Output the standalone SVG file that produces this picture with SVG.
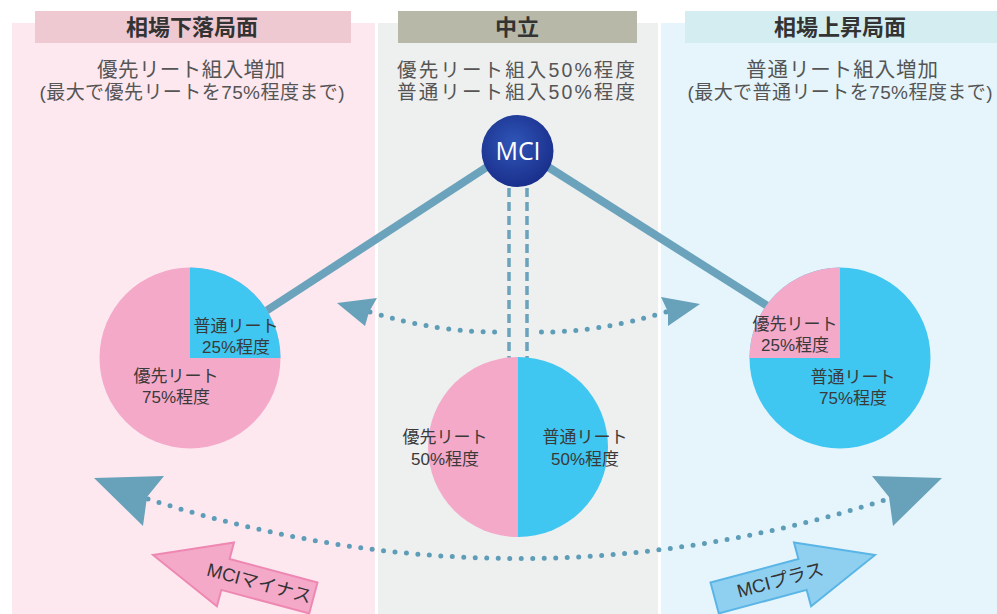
<svg xmlns="http://www.w3.org/2000/svg" width="997" height="614" viewBox="0 0 997 614">
<defs>
<radialGradient id="mciG" cx="45%" cy="40%" r="60%">
<stop offset="0" stop-color="#2f56b8"/>
<stop offset="1" stop-color="#1a2f8c"/>
</radialGradient>
<style>
text{font-family:"Liberation Sans","Noto Sans CJK JP",sans-serif;text-anchor:middle}
.hd{font-size:22px;font-weight:bold;fill:#333}
.s1{font-size:20.5px;fill:#555}
.s1m{font-size:19.5px;fill:#555}
.s2{font-size:19px;fill:#555}
.pl{font-size:17px;fill:#3a3a3a}
.ar{font-size:18.5px;fill:#333}
.dot{fill:none;stroke:#5e9db8;stroke-width:5;stroke-linecap:round;stroke-dasharray:0 11.5}
.ah{fill:#68a2ba}
.pink{fill:#f4a9c9}
.blue{fill:#3fc6f1}
</style>
</defs>
<rect width="997" height="614" fill="#ffffff"/>
<g id="panel-down">
<rect x="12" y="23" width="363" height="591" fill="#fde8f0"/>
<rect x="35" y="11" width="316" height="32" fill="#efc9d2"/>
<text class="hd" x="192" y="35">相場下落局面</text>
<text class="s1" x="191" y="77" textLength="188" lengthAdjust="spacing">優先リート組入増加</text>
<text class="s2" x="192" y="99" textLength="305" lengthAdjust="spacing">(最大で優先リートを75%程度まで)</text>
</g>
<g id="panel-neutral">
<rect x="378" y="23" width="280" height="591" fill="#eeefef"/>
<rect x="398" y="11" width="239" height="32" fill="#b7b8a8"/>
<text class="hd" x="517" y="35">中立</text>
<text class="s1m" x="516" y="77" textLength="238" lengthAdjust="spacing">優先リート組入50%程度</text>
<text class="s1m" x="516" y="99" textLength="238" lengthAdjust="spacing">普通リート組入50%程度</text>
</g>
<g id="panel-up">
<rect x="661" y="23" width="336" height="591" fill="#e6f5fc"/>
<rect x="685" y="11" width="312" height="32" fill="#d3edf1"/>
<text class="hd" x="840" y="35">相場上昇局面</text>
<text class="s1" x="842" y="77" textLength="192" lengthAdjust="spacing">普通リート組入増加</text>
<text class="s2" x="840" y="99" textLength="305" lengthAdjust="spacing">(最大で普通リートを75%程度まで)</text>
</g>
<g id="connectors">
<line x1="490" y1="165" x2="266" y2="311" stroke="#6aa3bb" stroke-width="8"/>
<line x1="545" y1="165" x2="769" y2="307" stroke="#6aa3bb" stroke-width="8"/>
<line x1="509" y1="188" x2="509" y2="358" stroke="#6aa3bb" stroke-width="3.5" stroke-dasharray="9 5"/>
<line x1="527" y1="188" x2="527" y2="358" stroke="#6aa3bb" stroke-width="3.5" stroke-dasharray="9 5"/>
<path class="dot" d="M370,312 Q440,333 500,332"/>
<path class="dot" d="M666,312 Q596,333 538,332"/>
<polygon class="ah" points="337,303 377,298 369,312 365,326"/>
<polygon class="ah" points="700,304 661,297 668,312 668,326"/>
<path class="dot" d="M148,499 Q518,618 888,499"/>
<polygon class="ah" points="94,478 164,476 147,497 143,526"/>
<polygon class="ah" points="942,478 872,476 889,497 893,526"/>
</g>
<g id="pie-down">
<circle class="pink" cx="190" cy="358" r="90.5"/>
<path class="blue" d="M190,358 L190,267.5 A90.5,90.5 0 0 1 280.5,358 Z"/>
<text class="pl" x="236" y="332">普通リート</text>
<text class="pl" x="236" y="353">25%程度</text>
<text class="pl" x="176" y="382">優先リート</text>
<text class="pl" x="176" y="403">75%程度</text>
</g>
<g id="pie-up">
<circle class="blue" cx="840" cy="358" r="90.5"/>
<path class="pink" d="M840,358 L749.5,358 A90.5,90.5 0 0 1 840,267.5 Z"/>
<text class="pl" x="795" y="330">優先リート</text>
<text class="pl" x="795" y="351">25%程度</text>
<text class="pl" x="853" y="383">普通リート</text>
<text class="pl" x="853" y="404">75%程度</text>
</g>
<g id="pie-neutral">
<path class="pink" d="M518,357 A90,90 0 0 0 518,537 Z"/>
<path class="blue" d="M518,357 A90,90 0 0 1 518,537 Z"/>
<text class="pl" x="445" y="443">優先リート</text>
<text class="pl" x="445" y="465">50%程度</text>
<text class="pl" x="585" y="443">普通リート</text>
<text class="pl" x="585" y="465">50%程度</text>
</g>
<g id="mci">
<circle cx="517.5" cy="151" r="36" fill="url(#mciG)"/>
<text x="518" y="160" style="font-family:'Open Sans','Liberation Sans',sans-serif;font-size:25px;fill:#ffffff">MCI</text>
</g>
<g id="arrow-minus" transform="translate(153,555) rotate(15)">
<polygon points="0,0 75,-33 75,-16 166,-16 166,16 75,16 75,33" fill="#f4a9c9" stroke="#ee88b2" stroke-width="2"/>
<text class="ar" x="110" y="6">MCIマイナス</text>
</g>
<g id="arrow-plus" transform="translate(875,555) rotate(-15)">
<polygon points="0,0 -75,-33 -75,-16 -166,-16 -166,16 -75,16 -75,33" fill="#8fd0f0" stroke="#5ab5e6" stroke-width="2"/>
<text class="ar" x="-98" y="6">MCIプラス</text>
</g>
</svg>
